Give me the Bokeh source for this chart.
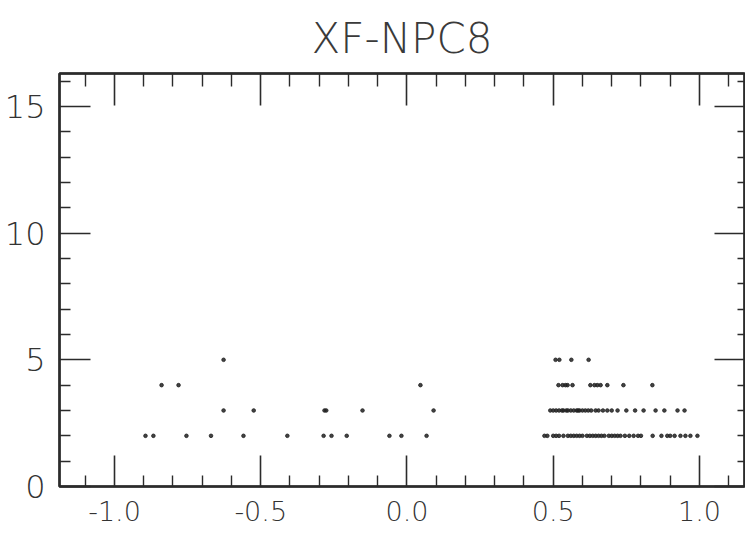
from bokeh.plotting import figure
from bokeh.models import LinearAxis, FixedTicker, Range1d, NumeralTickFormatter
from bokeh.embed import file_html
from bokeh.resources import INLINE

# ---- data ----
title_text = "XF-NPC8"
x_major = [-1.0, -0.5, 0.0, 0.5, 1.0]
x_minor = [-1.1, -0.9, -0.8, -0.7, -0.6, -0.4, -0.3, -0.2, -0.1,
           0.1, 0.2, 0.3, 0.4, 0.6, 0.7, 0.8, 0.9, 1.1]
y_major = [0, 5, 10, 15]
y_minor = [1, 2, 3, 4, 6, 7, 8, 9, 11, 12, 13, 14, 16]

level_5_x = [-0.627, 0.508, 0.521, 0.562, 0.621]
level_4_x = [-0.839, -0.781, 0.046, 0.518, 0.532, 0.542, 0.549, 0.566,
             0.627, 0.641, 0.651, 0.662, 0.685, 0.740, 0.839]
level_3_x = [-0.627, -0.524, -0.282, -0.276, -0.152, 0.091,
             0.49, 0.50, 0.51, 0.52, 0.53, 0.535, 0.545, 0.55, 0.56, 0.57,
             0.58, 0.585, 0.59, 0.60, 0.61, 0.62, 0.63, 0.645, 0.655, 0.67,
             0.685, 0.70, 0.72, 0.75, 0.78, 0.809, 0.850, 0.880, 0.925, 0.949]
level_2_x = [-0.894, -0.867, -0.754, -0.670, -0.559, -0.409, -0.285, -0.258,
             -0.206, -0.060, -0.019, 0.067,
             0.47, 0.48, 0.50, 0.51, 0.52, 0.535, 0.55, 0.56, 0.57, 0.58,
             0.59, 0.60, 0.615, 0.625, 0.635, 0.645, 0.655, 0.665, 0.675,
             0.69, 0.70, 0.71, 0.72, 0.73, 0.745, 0.76, 0.775, 0.79, 0.80,
             0.84, 0.87, 0.89, 0.90, 0.915, 0.935, 0.952, 0.969, 0.993]
levels = [5, 4, 3, 2]

xs, ys = [], []
for lev, lx in zip(levels, [level_5_x, level_4_x, level_3_x, level_2_x]):
    xs += lx
    ys += [lev] * len(lx)

FONT = "DejaVu Sans Light, DejaVu Sans"
INK = "#2b2b2b"

p = figure(width=745, height=533, output_backend="svg", toolbar_location=None,
           x_range=Range1d(-1.188, 1.154), y_range=Range1d(0, 16.3),
           min_border_left=59, min_border_right=1, min_border_top=73,
           min_border_bottom=47, title=title_text, background_fill_color="white",
           border_fill_color="white")

p.grid.visible = False
p.outline_line_color = INK
p.outline_line_width = 2.5

p.title.align = "center"
p.title.text_font = FONT
p.title.text_font_style = "normal"
p.title.text_font_size = "42px"
p.title.text_color = "#3a3a3a"
p.title.standoff = 22

def style(ax, major_in, minor_in, labels=True, size="28px", standoff=10):
    ax.axis_line_color = INK
    ax.axis_line_width = 2
    ax.major_tick_in = major_in
    ax.major_tick_out = 0
    ax.minor_tick_in = minor_in
    ax.minor_tick_out = 0
    ax.major_tick_line_color = INK
    ax.major_tick_line_width = 1.6
    ax.minor_tick_line_color = INK
    ax.minor_tick_line_width = 1.4
    if labels:
        ax.major_label_text_font = FONT
        ax.major_label_text_font_size = size
        ax.major_label_text_color = "#333333"
        ax.major_label_standoff = standoff
    else:
        ax.major_label_text_font_size = "1px"
        ax.major_label_text_color = None
        ax.major_label_standoff = 0

xb = p.xaxis[0]
xb.ticker = FixedTicker(ticks=x_major, minor_ticks=x_minor)
xb.formatter = NumeralTickFormatter(format="0.0")
style(xb, 31, 11, size="27px", standoff=14)

yl = p.yaxis[0]
yl.ticker = FixedTicker(ticks=y_major, minor_ticks=y_minor)
yl.formatter = NumeralTickFormatter(format="0")
style(yl, 31, 11, size="32px", standoff=14)

xt = LinearAxis(ticker=FixedTicker(ticks=x_major, minor_ticks=x_minor))
style(xt, 32, 13, labels=False)
p.add_layout(xt, "above")

yr = LinearAxis(ticker=FixedTicker(ticks=y_major, minor_ticks=y_minor))
style(yr, 30, 7, labels=False)
p.add_layout(yr, "right")

p.scatter(xs, ys, size=3.6, color="#222222", alpha=0.85, marker="circle")

open("out.html", "w").write(file_html(p, INLINE))
